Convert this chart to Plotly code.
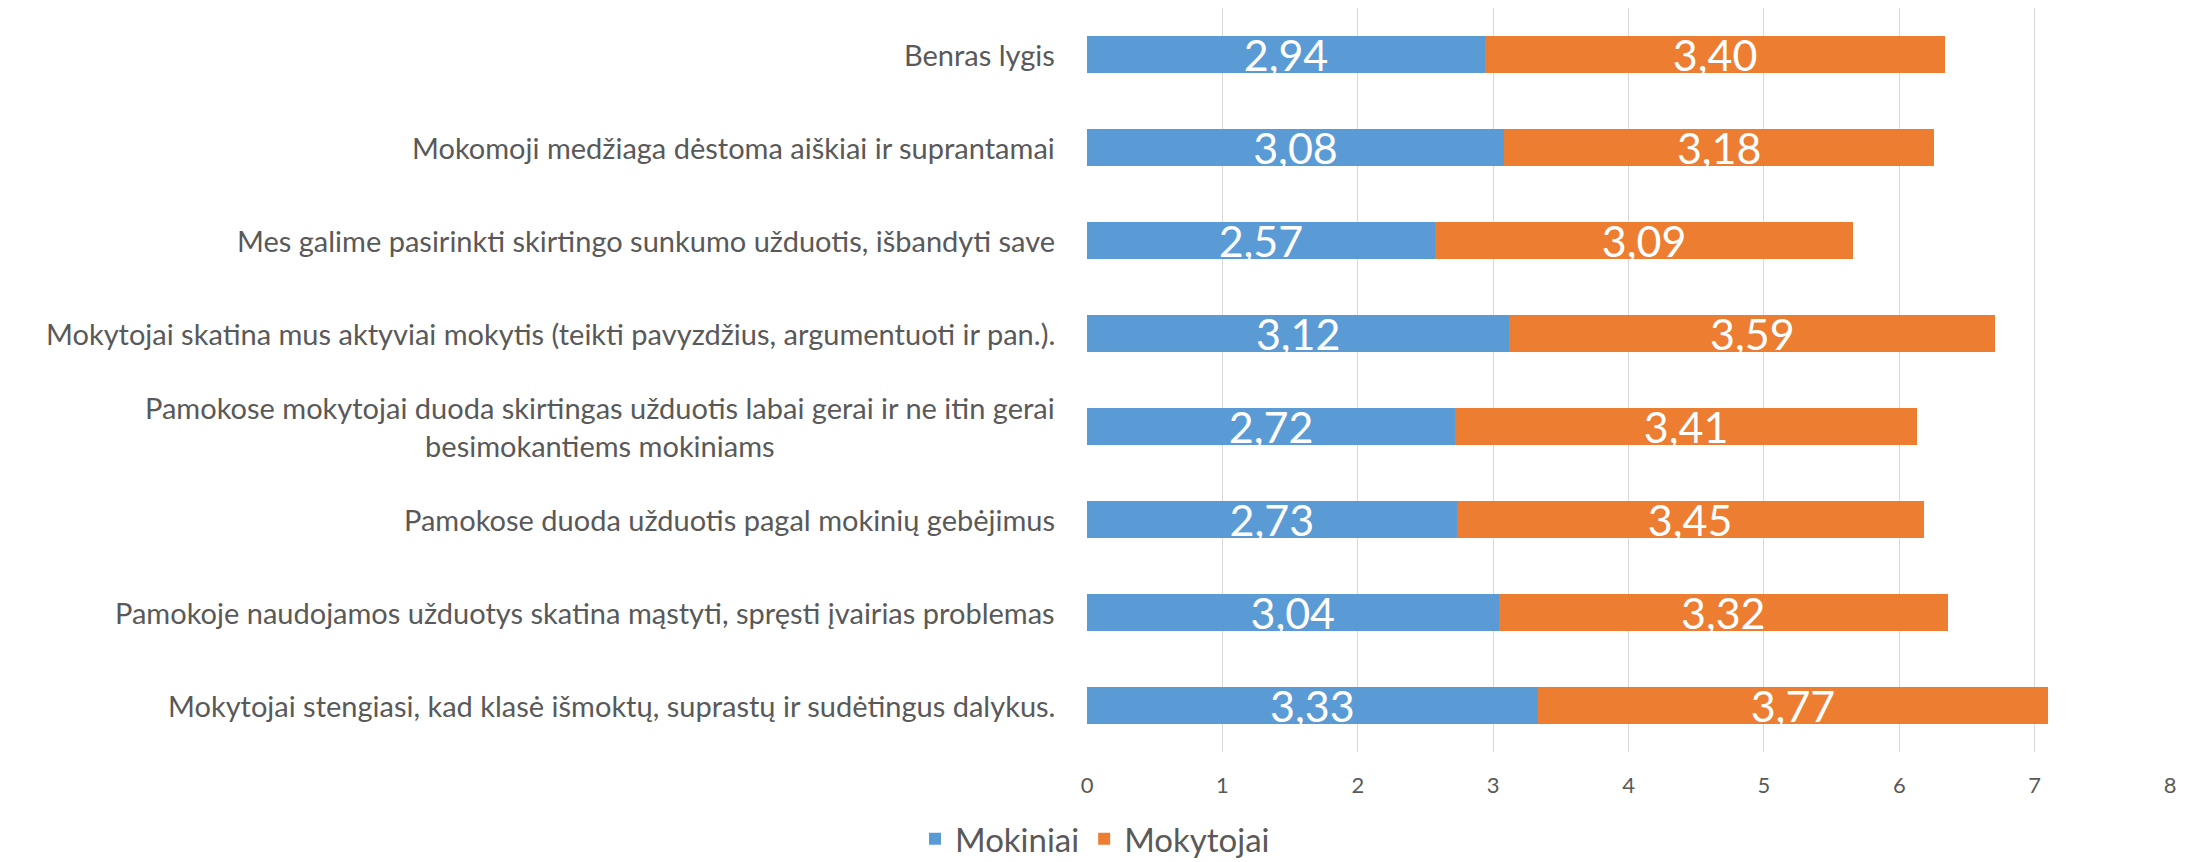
import plotly.graph_objects as go

categories = [
    "Benras lygis",
    "Mokomoji medžiaga dėstoma aiškiai ir suprantamai",
    "Mes galime pasirinkti skirtingo sunkumo užduotis, išbandyti save",
    "Mokytojai skatina mus aktyviai mokytis (teikti pavyzdžius, argumentuoti ir pan.).",
    "Pamokose mokytojai duoda skirtingas užduotis labai gerai ir ne itin gerai<br>besimokantiems mokiniams",
    "Pamokose duoda užduotis pagal mokinių gebėjimus",
    "Pamokoje naudojamos užduotys skatina mąstyti, spręsti įvairias problemas",
    "Mokytojai stengiasi, kad klasė išmoktų, suprastų ir sudėtingus dalykus.",
]
mokiniai = [2.94, 3.08, 2.57, 3.12, 2.72, 2.73, 3.04, 3.33]
mokytojai = [3.40, 3.18, 3.09, 3.59, 3.41, 3.45, 3.32, 3.77]
x_ticks = [0, 1, 2, 3, 4, 5, 6, 7, 8]

FONT = "Lato, Open Sans, sans-serif"
GRAY = "#595959"


def fmt(v):
    return f"{v:.2f}".replace(".", ",")


fig = go.Figure()
for name, vals, color in [("Mokiniai", mokiniai, "#5B9BD5"), ("Mokytojai", mokytojai, "#ED7D31")]:
    fig.add_trace(go.Bar(
        y=categories, x=vals, name=name, orientation="h",
        marker=dict(color=color, line=dict(width=0)),
        text=[fmt(v) for v in vals], textposition="inside",
        insidetextanchor="middle", textangle=0, constraintext="none",
        textfont=dict(family=FONT, size=43, color="white"),
        hoverinfo="x+y",
    ))

for c in categories:
    fig.add_annotation(
        x=0, y=c, xref="paper", yref="y", text=c, showarrow=False,
        xanchor="right", yanchor="middle", align="center", xshift=-30,
        font=dict(family=FONT, size=29, color=GRAY),
    )

fig.update_layout(
    width=2190, height=862,
    barmode="stack", bargap=0.6,
    paper_bgcolor="white", plot_bgcolor="white",
    margin=dict(l=1087, r=20, t=8, b=110),
    font=dict(family=FONT, color=GRAY),
    xaxis=dict(range=[0, 8], tickvals=x_ticks, ticktext=[str(t) for t in x_ticks],
               showgrid=True, gridcolor="#D9D9D9", gridwidth=1.3, zeroline=False,
               showline=False, ticks="", ticklabelstandoff=18,
               tickfont=dict(family=FONT, size=22, color=GRAY),
               fixedrange=True),
    yaxis=dict(autorange="reversed", showticklabels=False, showgrid=False,
               zeroline=False, showline=False, ticks="", fixedrange=True),
    legend=dict(orientation="h", xref="container", yref="container",
                x=0.5, xanchor="center", y=0.027, yanchor="middle",
                font=dict(family=FONT, size=33, color=GRAY), traceorder="normal",
                itemsizing="constant"),
    showlegend=True,
)

fig.write_html(
    "out.html",
    config={"displayModeBar": False},
    post_script="document.body.style.margin='0';document.body.style.overflow='hidden';",
)
